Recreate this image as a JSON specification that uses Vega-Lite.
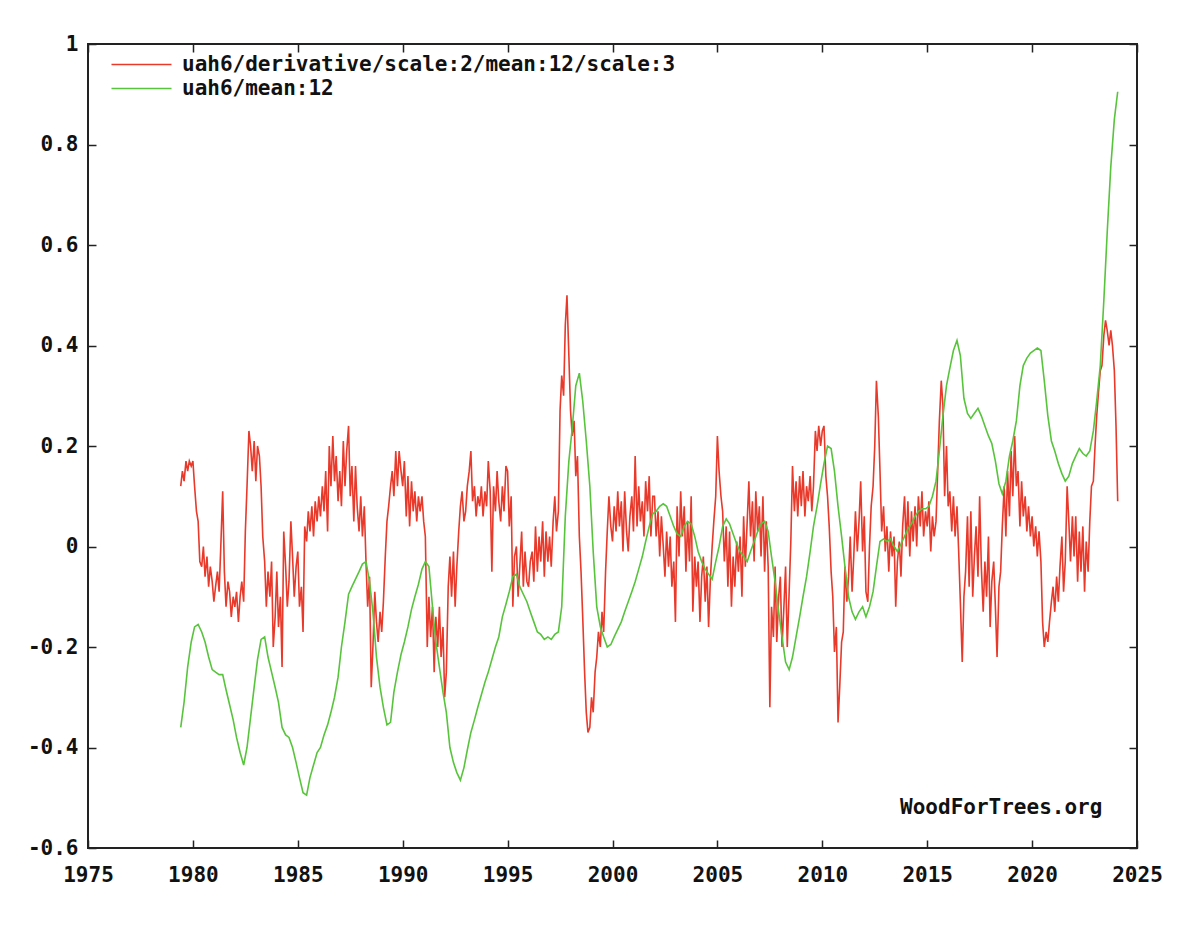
{
  "$schema": "https://vega.github.io/schema/vega-lite/v6.json",
  "width": 1049,
  "height": 804,
  "autosize": {"type": "none"},
  "padding": {"left": 88, "top": 44, "right": 63, "bottom": 77},
  "background": "white",
  "config": {
    "view": {"stroke": "#222222", "strokeWidth": 2},
    "font": "DejaVu Sans Mono",
    "axis": {
      "domain": false,
      "grid": false,
      "title": null,
      "tickColor": "#222222",
      "tickWidth": 1.5,
      "tickSize": -8,
      "labelFlush": false,
      "labelFont": "DejaVu Sans Mono",
      "labelFontWeight": "bold",
      "labelFontSize": 21,
      "labelColor": "#111111"
    }
  },
  "datasets": {
    "uah": [
      {"t":1979.42,"d":0.12,"m":-0.36},{"t":1979.5,"d":0.15},{"t":1979.58,"d":0.13,"m":-0.31},{"t":1979.67,"d":0.17},{"t":1979.75,"d":0.15,"m":-0.24},{"t":1979.83,"d":0.17},{"t":1979.92,"d":0.16,"m":-0.19},
      {"t":1980.0,"d":0.17},{"t":1980.08,"d":0.12,"m":-0.16},{"t":1980.17,"d":0.07},{"t":1980.25,"d":0.05,"m":-0.155},{"t":1980.33,"d":-0.03},{"t":1980.42,"d":-0.04,"m":-0.17},{"t":1980.5,"d":0.0},{"t":1980.58,"d":-0.06,"m":-0.19},{"t":1980.67,"d":-0.02},{"t":1980.75,"d":-0.08,"m":-0.22},{"t":1980.83,"d":-0.04},{"t":1980.92,"d":-0.07,"m":-0.245},
      {"t":1981.0,"d":-0.11},{"t":1981.08,"d":-0.08,"m":-0.25},{"t":1981.17,"d":-0.05},{"t":1981.25,"d":-0.09,"m":-0.255},{"t":1981.33,"d":0.0},{"t":1981.42,"d":0.11,"m":-0.255},{"t":1981.5,"d":-0.05},{"t":1981.58,"d":-0.12,"m":-0.285},{"t":1981.67,"d":-0.07},{"t":1981.75,"d":-0.09,"m":-0.315},{"t":1981.83,"d":-0.14},{"t":1981.92,"d":-0.1,"m":-0.345},
      {"t":1982.0,"d":-0.12},{"t":1982.08,"d":-0.09,"m":-0.38},{"t":1982.17,"d":-0.15},{"t":1982.25,"d":-0.1,"m":-0.41},{"t":1982.33,"d":-0.07},{"t":1982.42,"d":-0.11,"m":-0.435},{"t":1982.5,"d":0.03},{"t":1982.58,"d":0.12,"m":-0.4},{"t":1982.67,"d":0.23},{"t":1982.75,"d":0.2,"m":-0.34},{"t":1982.83,"d":0.15},{"t":1982.92,"d":0.21,"m":-0.28},
      {"t":1983.0,"d":0.13},{"t":1983.08,"d":0.2,"m":-0.225},{"t":1983.17,"d":0.18},{"t":1983.25,"d":0.12,"m":-0.185},{"t":1983.33,"d":0.02},{"t":1983.42,"d":-0.03,"m":-0.18},{"t":1983.5,"d":-0.12},{"t":1983.58,"d":-0.05,"m":-0.22},{"t":1983.67,"d":-0.1},{"t":1983.75,"d":-0.03,"m":-0.25},{"t":1983.83,"d":-0.2},{"t":1983.92,"d":-0.14,"m":-0.28},
      {"t":1984.0,"d":-0.05},{"t":1984.08,"d":-0.16,"m":-0.31},{"t":1984.17,"d":-0.1},{"t":1984.25,"d":-0.24,"m":-0.36},{"t":1984.33,"d":0.03},{"t":1984.42,"d":-0.04,"m":-0.375},{"t":1984.5,"d":-0.12},{"t":1984.58,"d":-0.07,"m":-0.38},{"t":1984.67,"d":0.05},{"t":1984.75,"d":-0.02,"m":-0.4},{"t":1984.83,"d":-0.1},{"t":1984.92,"d":-0.04,"m":-0.43},
      {"t":1985.0,"d":-0.01},{"t":1985.08,"d":-0.12,"m":-0.46},{"t":1985.17,"d":-0.08},{"t":1985.25,"d":-0.17,"m":-0.49},{"t":1985.33,"d":0.04},{"t":1985.42,"d":0.01,"m":-0.495},{"t":1985.5,"d":0.07},{"t":1985.58,"d":0.03,"m":-0.46},{"t":1985.67,"d":0.08},{"t":1985.75,"d":0.02,"m":-0.435},{"t":1985.83,"d":0.09},{"t":1985.92,"d":0.05,"m":-0.41},
      {"t":1986.0,"d":0.1},{"t":1986.08,"d":0.06,"m":-0.4},{"t":1986.17,"d":0.12},{"t":1986.25,"d":0.07,"m":-0.375},{"t":1986.33,"d":0.15},{"t":1986.42,"d":0.03,"m":-0.355},{"t":1986.5,"d":0.2},{"t":1986.58,"d":0.12,"m":-0.33},{"t":1986.67,"d":0.22},{"t":1986.75,"d":0.13,"m":-0.3},{"t":1986.83,"d":0.18},{"t":1986.92,"d":0.09,"m":-0.26},
      {"t":1987.0,"d":0.15},{"t":1987.08,"d":0.08,"m":-0.2},{"t":1987.17,"d":0.21},{"t":1987.25,"d":0.12,"m":-0.15},{"t":1987.33,"d":0.19},{"t":1987.42,"d":0.24,"m":-0.095},{"t":1987.5,"d":0.1},{"t":1987.58,"d":0.16,"m":-0.08},{"t":1987.67,"d":0.05},{"t":1987.75,"d":0.16,"m":-0.065},{"t":1987.83,"d":0.08},{"t":1987.92,"d":0.03,"m":-0.05},
      {"t":1988.0,"d":0.1},{"t":1988.08,"d":0.02,"m":-0.035},{"t":1988.17,"d":0.08},{"t":1988.25,"d":-0.03,"m":-0.03},{"t":1988.33,"d":-0.12},{"t":1988.42,"d":-0.06,"m":-0.07},{"t":1988.5,"d":-0.28},{"t":1988.58,"d":-0.2,"m":-0.13},{"t":1988.67,"d":-0.09},{"t":1988.75,"d":-0.15,"m":-0.22},{"t":1988.83,"d":-0.19},{"t":1988.92,"d":-0.13,"m":-0.28},
      {"t":1989.0,"d":-0.17},{"t":1989.08,"d":-0.11,"m":-0.32},{"t":1989.17,"d":-0.02},{"t":1989.25,"d":0.05,"m":-0.355},{"t":1989.33,"d":0.08},{"t":1989.42,"d":0.12,"m":-0.35},{"t":1989.5,"d":0.15},{"t":1989.58,"d":0.1,"m":-0.29},{"t":1989.67,"d":0.19},{"t":1989.75,"d":0.12,"m":-0.25},{"t":1989.83,"d":0.19},{"t":1989.92,"d":0.15,"m":-0.215},
      {"t":1990.0,"d":0.12},{"t":1990.08,"d":0.17,"m":-0.19},{"t":1990.17,"d":0.06},{"t":1990.25,"d":0.14,"m":-0.16},{"t":1990.33,"d":0.04},{"t":1990.42,"d":0.13,"m":-0.125},{"t":1990.5,"d":0.07},{"t":1990.58,"d":0.11,"m":-0.1},{"t":1990.67,"d":0.05},{"t":1990.75,"d":0.1,"m":-0.075},{"t":1990.83,"d":0.07},{"t":1990.92,"d":0.1,"m":-0.045},
      {"t":1991.0,"d":0.05},{"t":1991.08,"d":0.02,"m":-0.03},{"t":1991.17,"d":-0.2},{"t":1991.25,"d":-0.1,"m":-0.04},{"t":1991.33,"d":-0.18},{"t":1991.42,"d":-0.12,"m":-0.12},{"t":1991.5,"d":-0.25},{"t":1991.58,"d":-0.14,"m":-0.19},{"t":1991.67,"d":-0.2},{"t":1991.75,"d":-0.12,"m":-0.24},{"t":1991.83,"d":-0.22},{"t":1991.92,"d":-0.16,"m":-0.29},
      {"t":1992.0,"d":-0.3},{"t":1992.08,"d":-0.25,"m":-0.33},{"t":1992.17,"d":-0.08},{"t":1992.25,"d":-0.02,"m":-0.4},{"t":1992.33,"d":-0.1},{"t":1992.42,"d":-0.01,"m":-0.43},{"t":1992.5,"d":-0.12},{"t":1992.58,"d":-0.04,"m":-0.45},{"t":1992.67,"d":0.03},{"t":1992.75,"d":0.08,"m":-0.465},{"t":1992.83,"d":0.11},{"t":1992.92,"d":0.05,"m":-0.44},
      {"t":1993.0,"d":0.07},{"t":1993.08,"d":0.12,"m":-0.405},{"t":1993.17,"d":0.15},{"t":1993.25,"d":0.19,"m":-0.37},{"t":1993.33,"d":0.09},{"t":1993.42,"d":0.12,"m":-0.345},{"t":1993.5,"d":0.06},{"t":1993.58,"d":0.1,"m":-0.32},{"t":1993.67,"d":0.08},{"t":1993.75,"d":0.12,"m":-0.295},{"t":1993.83,"d":0.06},{"t":1993.92,"d":0.11,"m":-0.27},
      {"t":1994.0,"d":0.08},{"t":1994.08,"d":0.17,"m":-0.25},{"t":1994.17,"d":0.11},{"t":1994.25,"d":-0.05,"m":-0.225},{"t":1994.33,"d":0.12},{"t":1994.42,"d":0.07,"m":-0.2},{"t":1994.5,"d":0.15},{"t":1994.58,"d":0.09,"m":-0.18},{"t":1994.67,"d":0.05},{"t":1994.75,"d":0.12,"m":-0.14},{"t":1994.83,"d":0.07},{"t":1994.92,"d":0.16,"m":-0.115},
      {"t":1995.0,"d":0.15},{"t":1995.08,"d":0.04,"m":-0.09},{"t":1995.17,"d":0.1},{"t":1995.25,"d":-0.12,"m":-0.06},{"t":1995.33,"d":-0.02},{"t":1995.42,"d":0.0,"m":-0.055},{"t":1995.5,"d":-0.1},{"t":1995.58,"d":-0.04,"m":-0.08},{"t":1995.67,"d":0.03},{"t":1995.75,"d":-0.08,"m":-0.095},{"t":1995.83,"d":-0.01},{"t":1995.92,"d":-0.07,"m":-0.11},
      {"t":1996.0,"d":-0.08},{"t":1996.08,"d":-0.03,"m":-0.13},{"t":1996.17,"d":-0.01},{"t":1996.25,"d":-0.07,"m":-0.15},{"t":1996.33,"d":0.04},{"t":1996.42,"d":-0.05,"m":-0.17},{"t":1996.5,"d":0.02},{"t":1996.58,"d":-0.03,"m":-0.175},{"t":1996.67,"d":0.05},{"t":1996.75,"d":-0.06,"m":-0.185},{"t":1996.83,"d":0.03},{"t":1996.92,"d":-0.03,"m":-0.18},
      {"t":1997.0,"d":0.02},{"t":1997.08,"d":-0.04,"m":-0.185},{"t":1997.17,"d":0.05},{"t":1997.25,"d":0.1,"m":-0.175},{"t":1997.33,"d":0.03},{"t":1997.42,"d":0.07,"m":-0.17},{"t":1997.5,"d":0.27},{"t":1997.58,"d":0.34,"m":-0.12},{"t":1997.67,"d":0.3},{"t":1997.75,"d":0.44,"m":0.06},{"t":1997.83,"d":0.5},{"t":1997.92,"d":0.38,"m":0.17},
      {"t":1998.0,"d":0.27},{"t":1998.08,"d":0.22,"m":0.235},{"t":1998.17,"d":0.25},{"t":1998.25,"d":0.14,"m":0.32},{"t":1998.33,"d":0.18},{"t":1998.42,"d":0.02,"m":0.345},{"t":1998.5,"d":-0.05},{"t":1998.58,"d":-0.14,"m":0.29},{"t":1998.67,"d":-0.25},{"t":1998.75,"d":-0.33,"m":0.21},{"t":1998.83,"d":-0.37},{"t":1998.92,"d":-0.36,"m":0.12},
      {"t":1999.0,"d":-0.3},{"t":1999.08,"d":-0.33,"m":-0.01},{"t":1999.17,"d":-0.25},{"t":1999.25,"d":-0.22,"m":-0.12},{"t":1999.33,"d":-0.17},{"t":1999.42,"d":-0.2,"m":-0.16},{"t":1999.5,"d":-0.13},{"t":1999.58,"d":-0.17,"m":-0.18},{"t":1999.67,"d":-0.05},{"t":1999.75,"d":0.03,"m":-0.2},{"t":1999.83,"d":0.1},{"t":1999.92,"d":0.04,"m":-0.195},
      {"t":2000.0,"d":0.01},{"t":2000.08,"d":0.08,"m":-0.18},{"t":2000.17,"d":0.03},{"t":2000.25,"d":0.11,"m":-0.165},{"t":2000.33,"d":0.04},{"t":2000.42,"d":0.09,"m":-0.15},{"t":2000.5,"d":-0.01},{"t":2000.58,"d":0.11,"m":-0.13},{"t":2000.67,"d":0.03},{"t":2000.75,"d":-0.01,"m":-0.11},{"t":2000.83,"d":0.06},{"t":2000.92,"d":0.1,"m":-0.09},
      {"t":2001.0,"d":0.03},{"t":2001.08,"d":0.18,"m":-0.07},{"t":2001.17,"d":0.04},{"t":2001.25,"d":0.12,"m":-0.045},{"t":2001.33,"d":0.05},{"t":2001.42,"d":0.09,"m":-0.02},{"t":2001.5,"d":0.02},{"t":2001.58,"d":0.13,"m":0.01},{"t":2001.67,"d":0.07},{"t":2001.75,"d":0.14,"m":0.04},{"t":2001.83,"d":0.02},{"t":2001.92,"d":0.1,"m":0.065},
      {"t":2002.0,"d":0.1},{"t":2002.08,"d":0.02,"m":0.07},{"t":2002.17,"d":0.07},{"t":2002.25,"d":-0.02,"m":0.08},{"t":2002.33,"d":0.06},{"t":2002.42,"d":0.0,"m":0.085},{"t":2002.5,"d":-0.06},{"t":2002.58,"d":0.03,"m":0.08},{"t":2002.67,"d":-0.04},{"t":2002.75,"d":0.02,"m":0.06},{"t":2002.83,"d":-0.08},{"t":2002.92,"d":-0.03,"m":0.04},
      {"t":2003.0,"d":-0.15},{"t":2003.08,"d":0.08,"m":0.025},{"t":2003.17,"d":-0.02},{"t":2003.25,"d":0.11,"m":0.02},{"t":2003.33,"d":0.02},{"t":2003.42,"d":0.08,"m":0.04},{"t":2003.5,"d":-0.05},{"t":2003.58,"d":0.05,"m":0.05},{"t":2003.67,"d":-0.03},{"t":2003.75,"d":0.1,"m":0.045},{"t":2003.83,"d":-0.13},{"t":2003.92,"d":-0.02,"m":0.02},
      {"t":2004.0,"d":-0.08},{"t":2004.08,"d":-0.03,"m":-0.01},{"t":2004.17,"d":-0.15},{"t":2004.25,"d":-0.06,"m":-0.03},{"t":2004.33,"d":-0.02},{"t":2004.42,"d":-0.11,"m":-0.045},{"t":2004.5,"d":-0.04},{"t":2004.58,"d":-0.16,"m":-0.055},{"t":2004.67,"d":-0.06},{"t":2004.75,"d":0.0,"m":-0.065},{"t":2004.83,"d":0.05},{"t":2004.92,"d":0.1,"m":-0.03},
      {"t":2005.0,"d":0.22},{"t":2005.08,"d":0.15,"m":0.0},{"t":2005.17,"d":0.1},{"t":2005.25,"d":0.07,"m":0.04},{"t":2005.33,"d":-0.03},{"t":2005.42,"d":0.04,"m":0.055},{"t":2005.5,"d":-0.08},{"t":2005.58,"d":0.03,"m":0.045},{"t":2005.67,"d":-0.12},{"t":2005.75,"d":-0.02,"m":0.025},{"t":2005.83,"d":-0.08},{"t":2005.92,"d":0.01,"m":0.005},
      {"t":2006.0,"d":-0.05},{"t":2006.08,"d":0.02,"m":-0.01},{"t":2006.17,"d":-0.1},{"t":2006.25,"d":0.06,"m":-0.02},{"t":2006.33,"d":-0.04},{"t":2006.42,"d":0.05,"m":-0.03},{"t":2006.5,"d":0.13},{"t":2006.58,"d":0.02,"m":-0.01},{"t":2006.67,"d":0.09},{"t":2006.75,"d":-0.03,"m":0.01},{"t":2006.83,"d":0.11},{"t":2006.92,"d":0.03,"m":0.03},
      {"t":2007.0,"d":0.08},{"t":2007.08,"d":-0.02,"m":0.045},{"t":2007.17,"d":0.1},{"t":2007.25,"d":-0.05,"m":0.05},{"t":2007.33,"d":0.05},{"t":2007.42,"d":-0.04,"m":0.03},{"t":2007.5,"d":-0.32},{"t":2007.58,"d":-0.12,"m":-0.02},{"t":2007.67,"d":-0.18},{"t":2007.75,"d":-0.04,"m":-0.07},{"t":2007.83,"d":-0.19},{"t":2007.92,"d":-0.1,"m":-0.13},
      {"t":2008.0,"d":-0.06},{"t":2008.08,"d":-0.2,"m":-0.18},{"t":2008.17,"d":-0.12},{"t":2008.25,"d":-0.04,"m":-0.23},{"t":2008.33,"d":-0.2},{"t":2008.42,"d":-0.09,"m":-0.245},{"t":2008.5,"d":0.01},{"t":2008.58,"d":0.16,"m":-0.22},{"t":2008.67,"d":0.07},{"t":2008.75,"d":0.13,"m":-0.18},{"t":2008.83,"d":0.06},{"t":2008.92,"d":0.14,"m":-0.14},
      {"t":2009.0,"d":0.08},{"t":2009.08,"d":0.15,"m":-0.1},{"t":2009.17,"d":0.06},{"t":2009.25,"d":0.12,"m":-0.06},{"t":2009.33,"d":0.09},{"t":2009.42,"d":0.14,"m":-0.01},{"t":2009.5,"d":0.07},{"t":2009.58,"d":0.12,"m":0.04},{"t":2009.67,"d":0.23},{"t":2009.75,"d":0.19,"m":0.08},{"t":2009.83,"d":0.24},{"t":2009.92,"d":0.2,"m":0.125},
      {"t":2010.0,"d":0.23},{"t":2010.08,"d":0.24,"m":0.165},{"t":2010.17,"d":0.14},{"t":2010.25,"d":0.1,"m":0.2},{"t":2010.33,"d":0.04},{"t":2010.42,"d":-0.05,"m":0.195},{"t":2010.5,"d":-0.1},{"t":2010.58,"d":-0.21,"m":0.15},{"t":2010.67,"d":-0.16},{"t":2010.75,"d":-0.35,"m":0.08},{"t":2010.83,"d":-0.28},{"t":2010.92,"d":-0.19,"m":0.02},
      {"t":2011.0,"d":-0.17},{"t":2011.08,"d":-0.04,"m":-0.04},{"t":2011.17,"d":-0.11},{"t":2011.25,"d":-0.06,"m":-0.1},{"t":2011.33,"d":0.02},{"t":2011.42,"d":-0.09,"m":-0.13},{"t":2011.5,"d":-0.02},{"t":2011.58,"d":0.07,"m":-0.145},{"t":2011.67,"d":-0.01},{"t":2011.75,"d":0.05,"m":-0.13},{"t":2011.83,"d":0.13},{"t":2011.92,"d":-0.01,"m":-0.12},
      {"t":2012.0,"d":0.06},{"t":2012.08,"d":-0.09,"m":-0.14},{"t":2012.17,"d":-0.11},{"t":2012.25,"d":0.0,"m":-0.12},{"t":2012.33,"d":0.08},{"t":2012.42,"d":0.12,"m":-0.09},{"t":2012.5,"d":0.2},{"t":2012.58,"d":0.33,"m":-0.04},{"t":2012.67,"d":0.26},{"t":2012.75,"d":0.15,"m":0.01},{"t":2012.83,"d":0.03},{"t":2012.92,"d":0.08,"m":0.015},
      {"t":2013.0,"d":-0.01},{"t":2013.08,"d":0.04,"m":0.01},{"t":2013.17,"d":-0.05},{"t":2013.25,"d":0.03,"m":0.015},{"t":2013.33,"d":-0.02},{"t":2013.42,"d":0.02,"m":0.0},{"t":2013.5,"d":-0.12},{"t":2013.58,"d":-0.03,"m":-0.01},{"t":2013.67,"d":0.01},{"t":2013.75,"d":-0.06,"m":0.005},{"t":2013.83,"d":0.04},{"t":2013.92,"d":0.1,"m":0.02},
      {"t":2014.0,"d":0.0},{"t":2014.08,"d":0.09,"m":0.035},{"t":2014.17,"d":-0.02},{"t":2014.25,"d":0.07,"m":0.045},{"t":2014.33,"d":0.01},{"t":2014.42,"d":0.08,"m":0.06},{"t":2014.5,"d":0.0},{"t":2014.58,"d":0.1,"m":0.07},{"t":2014.67,"d":0.04},{"t":2014.75,"d":0.11,"m":0.075},{"t":2014.83,"d":0.02},{"t":2014.92,"d":0.07,"m":0.075},
      {"t":2015.0,"d":0.04},{"t":2015.08,"d":0.09,"m":0.08},{"t":2015.17,"d":-0.01},{"t":2015.25,"d":0.06,"m":0.1},{"t":2015.33,"d":0.02},{"t":2015.42,"d":0.05,"m":0.13},{"t":2015.5,"d":0.15},{"t":2015.58,"d":0.25,"m":0.19},{"t":2015.67,"d":0.33},{"t":2015.75,"d":0.28,"m":0.26},{"t":2015.83,"d":0.1},{"t":2015.92,"d":0.2,"m":0.32},
      {"t":2016.0,"d":0.08},{"t":2016.08,"d":0.11,"m":0.355},{"t":2016.17,"d":0.03},{"t":2016.25,"d":0.1,"m":0.39},{"t":2016.33,"d":0.02},{"t":2016.42,"d":0.08,"m":0.41},{"t":2016.5,"d":-0.01},{"t":2016.58,"d":-0.11,"m":0.38},{"t":2016.67,"d":-0.23},{"t":2016.75,"d":-0.1,"m":0.295},{"t":2016.83,"d":-0.05},{"t":2016.92,"d":0.06,"m":0.265},
      {"t":2017.0,"d":-0.08},{"t":2017.08,"d":0.07,"m":0.255},{"t":2017.17,"d":-0.1},{"t":2017.25,"d":-0.02,"m":0.265},{"t":2017.33,"d":0.04},{"t":2017.42,"d":-0.06,"m":0.275},{"t":2017.5,"d":0.1},{"t":2017.58,"d":-0.04,"m":0.26},{"t":2017.67,"d":-0.13},{"t":2017.75,"d":-0.03,"m":0.24},{"t":2017.83,"d":-0.1},{"t":2017.92,"d":0.02,"m":0.22},
      {"t":2018.0,"d":-0.16},{"t":2018.08,"d":-0.07,"m":0.205},{"t":2018.17,"d":-0.03},{"t":2018.25,"d":-0.12,"m":0.17},{"t":2018.33,"d":-0.22},{"t":2018.42,"d":-0.08,"m":0.125},{"t":2018.5,"d":-0.05},{"t":2018.58,"d":0.04,"m":0.105},{"t":2018.67,"d":0.12},{"t":2018.75,"d":0.02,"m":0.13},{"t":2018.83,"d":0.15},{"t":2018.92,"d":0.06,"m":0.18},
      {"t":2019.0,"d":0.19},{"t":2019.08,"d":0.1,"m":0.21},{"t":2019.17,"d":0.22},{"t":2019.25,"d":0.12,"m":0.25},{"t":2019.33,"d":0.15},{"t":2019.42,"d":0.04,"m":0.32},{"t":2019.5,"d":0.13},{"t":2019.58,"d":0.06,"m":0.36},{"t":2019.67,"d":0.1},{"t":2019.75,"d":0.03,"m":0.375},{"t":2019.83,"d":0.08},{"t":2019.92,"d":0.02,"m":0.385},
      {"t":2020.0,"d":0.06},{"t":2020.08,"d":0.0,"m":0.39},{"t":2020.17,"d":0.04},{"t":2020.25,"d":-0.02,"m":0.395},{"t":2020.33,"d":0.03},{"t":2020.42,"d":-0.03,"m":0.39},{"t":2020.5,"d":-0.15},{"t":2020.58,"d":-0.2,"m":0.33},{"t":2020.67,"d":-0.17},{"t":2020.75,"d":-0.19,"m":0.26},{"t":2020.83,"d":-0.15},{"t":2020.92,"d":-0.11,"m":0.21},
      {"t":2021.0,"d":-0.08},{"t":2021.08,"d":-0.13,"m":0.19},{"t":2021.17,"d":-0.06},{"t":2021.25,"d":-0.11,"m":0.165},{"t":2021.33,"d":-0.04},{"t":2021.42,"d":0.02,"m":0.145},{"t":2021.5,"d":-0.09},{"t":2021.58,"d":-0.03,"m":0.13},{"t":2021.67,"d":0.12},{"t":2021.75,"d":0.05,"m":0.14},{"t":2021.83,"d":-0.03},{"t":2021.92,"d":0.06,"m":0.165},
      {"t":2022.0,"d":-0.02},{"t":2022.08,"d":0.06,"m":0.18},{"t":2022.17,"d":-0.07},{"t":2022.25,"d":0.03,"m":0.195},{"t":2022.33,"d":-0.05},{"t":2022.42,"d":0.04,"m":0.185},{"t":2022.5,"d":-0.09},{"t":2022.58,"d":0.01,"m":0.18},{"t":2022.67,"d":-0.05},{"t":2022.75,"d":0.05,"m":0.19},{"t":2022.83,"d":0.12},{"t":2022.92,"d":0.13,"m":0.23},
      {"t":2023.0,"d":0.2},{"t":2023.08,"d":0.26,"m":0.29},{"t":2023.17,"d":0.31},{"t":2023.25,"d":0.35,"m":0.36},{"t":2023.33,"d":0.36},{"t":2023.42,"d":0.42,"m":0.49},{"t":2023.5,"d":0.45},{"t":2023.58,"d":0.43,"m":0.625},{"t":2023.67,"d":0.4},{"t":2023.75,"d":0.43,"m":0.755},{"t":2023.83,"d":0.4},{"t":2023.92,"d":0.35,"m":0.85},
      {"t":2024.0,"d":0.24},{"t":2024.08,"d":0.09,"m":0.905}
    ],
    "credit": [
      {"t": 2023.35, "v": -0.52, "label": "WoodForTrees.org"}
    ]
  },
  "layer": [
    {
      "data": {"name": "uah"},
      "transform": [
        {"fold": ["d", "m"], "as": ["series", "value"]},
        {"filter": {"field": "value", "valid": true}}
      ],
      "mark": {"type": "line", "strokeWidth": 1.6},
      "encoding": {
        "x": {
          "field": "t",
          "type": "quantitative",
          "scale": {"domain": [1975, 2025], "nice": false, "zero": false},
          "axis": {
            "orient": "bottom",
            "values": [1975, 1980, 1985, 1990, 1995, 2000, 2005, 2010, 2015, 2020, 2025],
            "format": "d",
            "labelPadding": 24
          }
        },
        "y": {
          "field": "value",
          "type": "quantitative",
          "scale": {"domain": [-0.6, 1], "nice": false, "zero": false},
          "axis": {
            "orient": "left",
            "values": [-0.6, -0.4, -0.2, 0, 0.2, 0.4, 0.6, 0.8, 1],
            "labelExpr": "toString(round(datum.value * 10) / 10)",
            "labelPadding": 18
          }
        },
        "color": {
          "field": "series",
          "type": "nominal",
          "scale": {"domain": ["d", "m"], "range": ["#e8392a", "#58c43c"]},
          "legend": {
            "orient": "none",
            "legendX": 43,
            "legendY": 10,
            "title": null,
            "padding": 0,
            "symbolType": "M-6,0H6",
            "symbolSize": 100,
            "symbolStrokeWidth": 1.6,
            "labelOffset": 30,
            "labelLimit": 0,
            "rowPadding": 2,
            "labelFont": "DejaVu Sans Mono",
            "labelFontWeight": "bold",
            "labelFontSize": 21,
            "labelColor": "#111111",
            "labelExpr": "datum.value == 'd' ? 'uah6/derivative/scale:2/mean:12/scale:3' : 'uah6/mean:12'"
          }
        }
      }
    },
    {
      "data": {"name": "credit"},
      "mark": {
        "type": "text",
        "align": "right",
        "baseline": "middle",
        "font": "DejaVu Sans Mono",
        "fontWeight": "bold",
        "fontSize": 21,
        "color": "#111111"
      },
      "encoding": {
        "x": {
          "field": "t",
          "type": "quantitative",
          "axis": {
            "orient": "top",
            "labels": false,
            "values": [1975, 1980, 1985, 1990, 1995, 2000, 2005, 2010, 2015, 2020, 2025]
          }
        },
        "y": {
          "field": "v",
          "type": "quantitative",
          "axis": {
            "orient": "right",
            "labels": false,
            "values": [-0.6, -0.4, -0.2, 0, 0.2, 0.4, 0.6, 0.8, 1]
          }
        },
        "text": {"field": "label"}
      }
    }
  ]
}
